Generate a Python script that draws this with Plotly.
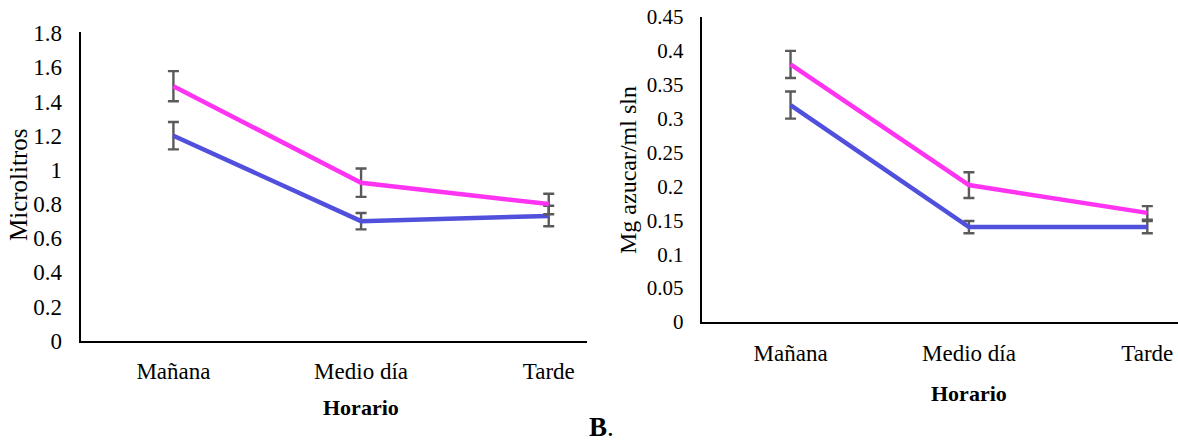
import plotly.graph_objects as go

W, H = 1178, 443

# Sampling times (categories)
horario = ["Mañana", "Medio día", "Tarde"]

# Panel A: volume (microlitros)
vol_magenta = [1.49, 0.925, 0.80]
vol_magenta_err = [0.088, 0.083, 0.06]
vol_blue = [1.20, 0.70, 0.73]
vol_blue_err = [0.08, 0.048, 0.06]
vol_ticks = [0, 0.2, 0.4, 0.6, 0.8, 1.0, 1.2, 1.4, 1.6, 1.8]
vol_ticklabels = ["0", "0.2", "0.4", "0.6", "0.8", "1", "1.2", "1.4", "1.6", "1.8"]

# Panel B: sugar concentration (mg azucar / ml sln)
sug_magenta = [0.38, 0.202, 0.161]
sug_magenta_err = [0.02, 0.019, 0.01]
sug_blue = [0.32, 0.140, 0.140]
sug_blue_err = [0.02, 0.009, 0.009]
sug_ticks = [0, 0.05, 0.1, 0.15, 0.2, 0.25, 0.3, 0.35, 0.4, 0.45]
sug_ticklabels = ["0", "0.05", "0.1", "0.15", "0.2", "0.25", "0.3", "0.35", "0.4", "0.45"]

MAGENTA = "#ff33f2"
BLUE = "#5150dd"
ERR = "#5a5a5a"
FONT = "Liberation Serif, Times New Roman, serif"


def px_x(x):
    return x / W


def px_y(y):
    return 1 - y / H


def err(vals):
    return dict(type="data", array=vals, visible=True, color=ERR, thickness=2.4, width=5.5)


def tf(size):
    return dict(family=FONT, size=size, color="black")


fig = go.Figure()

for ys, es, col in [(vol_blue, vol_blue_err, BLUE), (vol_magenta, vol_magenta_err, MAGENTA)]:
    fig.add_trace(go.Scatter(
        x=horario, y=ys, mode="lines", line=dict(color=col, width=4.5),
        error_y=err(es), xaxis="x", yaxis="y", showlegend=False))

for ys, es, col in [(sug_blue, sug_blue_err, BLUE), (sug_magenta, sug_magenta_err, MAGENTA)]:
    fig.add_trace(go.Scatter(
        x=horario, y=ys, mode="lines", line=dict(color=col, width=4.5),
        error_y=err(es), xaxis="x2", yaxis="y2", showlegend=False))


def axis(**kw):
    base = dict(showline=True, linecolor="black", linewidth=2, showgrid=False,
                zeroline=False, ticks="", fixedrange=True)
    base.update(kw)
    return base


fig.update_layout(
    template="none",
    width=W, height=H,
    margin=dict(l=0, r=0, t=0, b=0),
    paper_bgcolor="white", plot_bgcolor="white",
    font=dict(family=FONT, color="black", size=22),
    xaxis=axis(domain=[px_x(80.7), px_x(587.4)], anchor="y",
               type="category", range=[-0.494, 2.206],
               tickfont=tf(23), ticklabelstandoff=9),
    yaxis=axis(domain=[px_y(340.7), px_y(31.7)], anchor="x",
               range=[0, 1.809], tickvals=vol_ticks, ticktext=vol_ticklabels,
               tickfont=tf(23), ticklabelstandoff=12),
    xaxis2=axis(domain=[px_x(701.7), 1.0], anchor="y2",
                type="category", range=[-0.498, 2.172],
                tickfont=tf(23), ticklabelstandoff=9),
    yaxis2=axis(domain=[px_y(322.0), px_y(17.0)], anchor="x2",
                range=[0, 0.45], tickvals=sug_ticks, ticktext=sug_ticklabels,
                tickfont=tf(21), ticklabelstandoff=12),
)

annotations = [
    dict(text="Microlitros", x=px_x(18), y=px_y(185), textangle=-90, font=tf(25)),
    dict(text="<b>Horario</b>", x=px_x(361), y=px_y(407), font=tf(22)),
    dict(text="Mg azucar/ml sln", x=px_x(628), y=px_y(170), textangle=-90, font=tf(24)),
    dict(text="<b>Horario</b>", x=px_x(968.6), y=px_y(393), font=tf(22)),
    dict(text="<b>B</b>.", x=px_x(601), y=px_y(427), font=tf(27)),
]
for a in annotations:
    fig.add_annotation(dict(a, xref="paper", yref="paper", showarrow=False,
                            xanchor="center", yanchor="middle"))

fig.write_html("out.html")
